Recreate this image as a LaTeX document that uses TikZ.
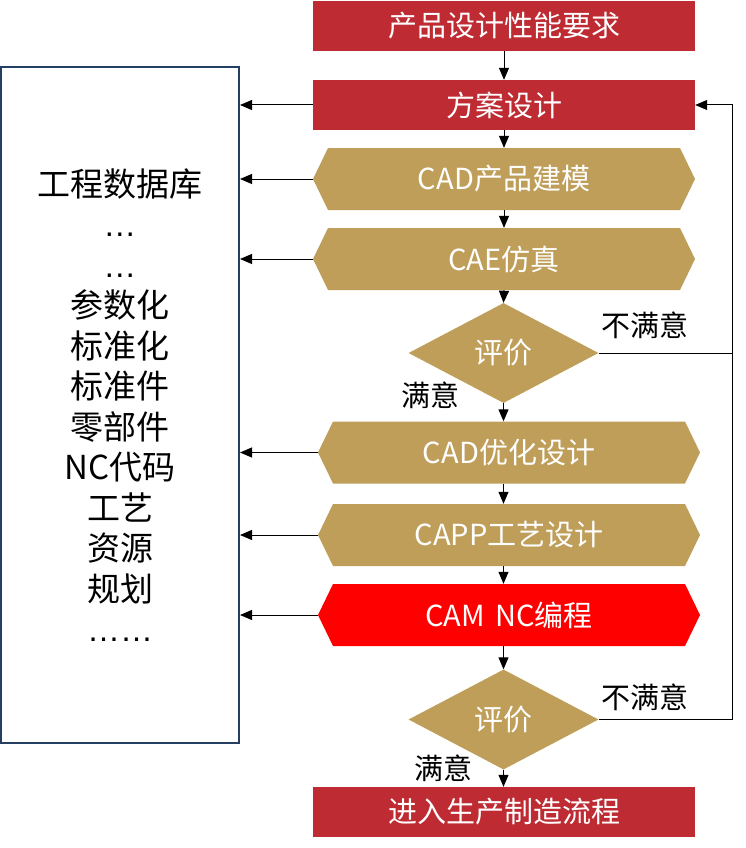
\documentclass[tikz,border=0pt]{standalone}
\usepackage{fontspec}
\setmainfont{Noto Sans CJK SC}
\newfontfamily\latinf{Liberation Sans}
\usetikzlibrary{shapes.geometric,arrows.meta}
\definecolor{boxred}{RGB}{190,43,51}
\definecolor{gold}{RGB}{191,158,90}
\definecolor{camred}{RGB}{255,0,0}
\definecolor{navy}{RGB}{36,63,96}
\begin{document}
\begin{tikzpicture}[x=1pt,y=-1pt,
  arr/.style={-{Triangle[length=12pt,width=10pt]}, line width=1pt},
  plain/.style={line width=1pt},
  bigfont/.style={font=\fontsize{29}{34}\selectfont},
  redbox/.style={bigfont, fill=boxred, text=white, minimum width=382pt, minimum height=50pt, inner sep=0pt},
  hexa/.style={bigfont, minimum width=382pt, minimum height=62pt, inner sep=0pt, text=white,
    path picture={\fill[#1] ([xshift=15pt]path picture bounding box.north west) -- ([xshift=-15pt]path picture bounding box.north east) -- (path picture bounding box.east) -- ([xshift=-15pt]path picture bounding box.south east) -- ([xshift=15pt]path picture bounding box.south west) -- (path picture bounding box.west) -- cycle;}},
  judge/.style={bigfont, diamond, aspect=1.9, fill=gold, text=white, minimum width=190pt, minimum height=100pt, inner sep=0pt},
  lab/.style={bigfont, text=black, inner sep=0pt},
  dbbox/.style={draw=navy, line width=2pt, minimum width=238pt, minimum height=676pt, align=center, font=\fontsize{33}{40.5}\selectfont, inner sep=0pt}
]
\useasboundingbox (0,0) rectangle (745,848);

\node[redbox] (top) at (504,26) {产品设计性能要求};
\node[redbox] (fa) at (504,105) {方案设计};
\node[hexa=gold] (h1) at (504,179) {CAD产品建模};
\node[hexa=gold] (h2) at (504,259) {CAE仿真};
\node[judge] (d1) at (503.5,353) {评价};
\node[hexa=gold] (h3) at (509,452.5) {CAD优化设计};
\node[hexa=gold] (h4) at (509,535) {CAPP工艺设计};
\node[hexa=camred] (h5) at (509,615) {CAM\hspace{10pt}NC编程};
\node[judge] (d2) at (503.5,719.5) {评价};
\node[redbox] (bot) at (504,812) {进入生产制造流程};

\node[dbbox] (db) at (120,405) {工程数据库\\{\latinf …}\\{\latinf …}\\参数化\\标准化\\标准件\\零部件\\NC代码\\工艺\\资源\\规划\\{\latinf ……}};

\node[lab] (n1) at (645,325) {不满意};
\node[lab] (y1) at (430,395) {满意};
\node[lab] (n2) at (645,697) {不满意};
\node[lab] (y2) at (443,768) {满意};

\coordinate (fb) at (732,353);

\draw[arr] (top.south) -- (fa.north);
\draw[arr] (fa.south) -- (h1.north);
\draw[arr] (h1.south) -- (h2.north);
\draw[arr] (h2.south) -- (d1.north);
\draw[arr] (d1.south) -- (d1.south |- h3.north);
\draw[arr] (h3.south -| d1.south) -- (d1.south |- h4.north);
\draw[arr] (h4.south -| d1.south) -- (d1.south |- h5.north);
\draw[arr] (h5.south -| d2.north) -- (d2.north);
\draw[arr] (d2.south) -- (bot.north -| d2.south);

\draw[arr] (d1.east) -- (fb) |- (fa.east);
\draw[plain] (d2.east) -| (fb);

\foreach \n in {fa,h1,h2,h3,h4,h5}
  \draw[arr] (\n.west) -- (\n.west -| db.east);
\end{tikzpicture}
\end{document}
